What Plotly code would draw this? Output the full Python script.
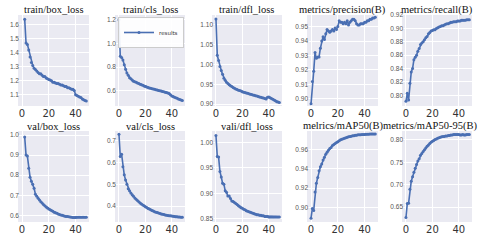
import plotly.graph_objects as go
from plotly.subplots import make_subplots

epochs = list(range(0, 49))

train_box_loss = [1.64, 1.47, 1.46, 1.42, 1.37, 1.33, 1.31, 1.29, 1.28, 1.27, 1.26, 1.25, 1.25, 1.24, 1.23,
                  1.23, 1.22, 1.215, 1.21, 1.205, 1.20, 1.19, 1.19, 1.185, 1.18, 1.18, 1.175, 1.17, 1.17,
                  1.165, 1.16, 1.16, 1.15, 1.15, 1.145, 1.14, 1.14, 1.13, 1.10, 1.095, 1.09, 1.085, 1.08,
                  1.07, 1.065, 1.06, 1.055]
train_cls_loss = [1.20, 0.89, 0.88, 0.86, 0.82, 0.78, 0.75, 0.73, 0.71, 0.70, 0.69, 0.68, 0.675, 0.67, 0.665,
                  0.66, 0.655, 0.65, 0.645, 0.64, 0.635, 0.63, 0.627, 0.623, 0.62, 0.617, 0.614, 0.611,
                  0.608, 0.605, 0.602, 0.599, 0.596, 0.593, 0.59, 0.587, 0.584, 0.58, 0.575, 0.565, 0.555,
                  0.55, 0.545, 0.54, 0.535, 0.53, 0.525, 0.52, 0.517]
train_dfl_loss = [1.115, 1.023, 1.01, 0.995, 0.985, 0.975, 0.965, 0.96, 0.955, 0.952, 0.949, 0.946, 0.944,
                  0.942, 0.94, 0.938, 0.937, 0.935, 0.934, 0.933, 0.931, 0.93, 0.929, 0.928, 0.927, 0.926,
                  0.925, 0.924, 0.923, 0.922, 0.921, 0.92, 0.919, 0.918, 0.917, 0.916, 0.915, 0.914, 0.913,
                  0.917, 0.918, 0.916, 0.914, 0.912, 0.91, 0.908, 0.906, 0.905, 0.904]
precision = [0.8965, 0.912, 0.919, 0.932, 0.928, 0.929, 0.929, 0.935, 0.94, 0.943, 0.941, 0.945, 0.948,
             0.947, 0.946, 0.947, 0.948, 0.947, 0.949, 0.948, 0.950, 0.954, 0.953, 0.953, 0.952, 0.953,
             0.952, 0.954, 0.951, 0.953, 0.954, 0.955, 0.955, 0.954, 0.952, 0.951, 0.951, 0.952, 0.952,
             0.952, 0.953, 0.953, 0.954, 0.954, 0.955, 0.955, 0.956, 0.956, 0.9565]
recall = [0.791, 0.803, 0.793, 0.818, 0.835, 0.84, 0.853, 0.857, 0.86, 0.866, 0.87, 0.876, 0.878, 0.88,
          0.883, 0.886, 0.888, 0.892, 0.894, 0.896, 0.897, 0.898, 0.898, 0.900, 0.901, 0.902, 0.903,
          0.904, 0.904, 0.905, 0.906, 0.907, 0.907, 0.908, 0.909, 0.909, 0.910, 0.910, 0.910, 0.911,
          0.911, 0.911, 0.912, 0.912, 0.912, 0.912, 0.913, 0.913, 0.913]
val_box_loss = [0.99, 0.90, 0.895, 0.835, 0.79, 0.77, 0.755, 0.735, 0.705, 0.695, 0.685, 0.676, 0.668,
                0.661, 0.654, 0.648, 0.642, 0.637, 0.632, 0.628, 0.624, 0.62, 0.616, 0.613, 0.61, 0.607,
                0.604, 0.602, 0.60, 0.598, 0.596, 0.595, 0.594, 0.593, 0.592, 0.591, 0.59, 0.59, 0.59,
                0.591, 0.591, 0.591, 0.591, 0.591, 0.591, 0.591, 0.591]
val_cls_loss = [0.728, 0.627, 0.637, 0.58, 0.543, 0.52, 0.50, 0.48, 0.47, 0.46, 0.452, 0.445, 0.438, 0.432,
                0.426, 0.42, 0.415, 0.41, 0.406, 0.402, 0.398, 0.394, 0.39, 0.387, 0.384, 0.381, 0.378,
                0.375, 0.373, 0.371, 0.369, 0.367, 0.365, 0.363, 0.362, 0.36, 0.359, 0.358, 0.357, 0.356,
                0.355, 0.354, 0.353, 0.352, 0.352, 0.351, 0.351, 0.35, 0.35]
val_dfl_loss = [1.013, 0.972, 0.971, 0.943, 0.932, 0.92, 0.918, 0.905, 0.902, 0.895, 0.895, 0.89, 0.885,
                0.884, 0.882, 0.88, 0.878, 0.876, 0.874, 0.872, 0.871, 0.869, 0.868, 0.866, 0.865, 0.864,
                0.863, 0.862, 0.861, 0.86, 0.859, 0.858, 0.858, 0.857, 0.857, 0.856, 0.856, 0.855, 0.855,
                0.855, 0.854, 0.854, 0.854, 0.854, 0.854, 0.854, 0.854, 0.854, 0.854]
map50 = [0.889, 0.899, 0.897, 0.916, 0.925, 0.931, 0.938, 0.942, 0.945, 0.949, 0.952, 0.955, 0.957, 0.959,
         0.961, 0.962, 0.964, 0.965, 0.966, 0.967, 0.968, 0.969, 0.97, 0.9705, 0.971, 0.9715, 0.972,
         0.9725, 0.973, 0.9733, 0.9736, 0.974, 0.9742, 0.9745, 0.9747, 0.975, 0.975, 0.9752, 0.9753,
         0.9755, 0.9755, 0.9756, 0.9757, 0.9757, 0.9758, 0.9758, 0.9759, 0.9759, 0.976]
map50_95 = [0.627, 0.658, 0.659, 0.69, 0.708, 0.718, 0.728, 0.737, 0.745, 0.753, 0.758, 0.766, 0.77, 0.774,
            0.778, 0.782, 0.786, 0.789, 0.792, 0.795, 0.797, 0.799, 0.801, 0.802, 0.804, 0.805, 0.806,
            0.807, 0.808, 0.808, 0.809, 0.809, 0.81, 0.81, 0.811, 0.811, 0.812, 0.812, 0.812, 0.812,
            0.812, 0.811, 0.811, 0.812, 0.811, 0.811, 0.812, 0.812, 0.812]

titles = ["train/box_loss", "train/cls_loss", "train/dfl_loss", "metrics/precision(B)", "metrics/recall(B)",
          "val/box_loss", "val/cls_loss", "vali/dfl_loss", "melrics/mAP50(B)", "metrics/mAP50-95(B)"]
series = [train_box_loss, train_cls_loss, train_dfl_loss, precision, recall,
          val_box_loss, val_cls_loss, val_dfl_loss, map50, map50_95]
y_ranges = [[1.02, 1.67], [0.47, 1.24], [0.895, 1.125], [0.895, 0.958], [0.784, 0.92],
            [0.567, 1.02], [0.328, 0.743], [0.844, 1.022], [0.885, 0.979], [0.617, 0.82]]
y_dticks = [0.1, 0.2, 0.05, 0.01, 0.02, 0.1, 0.1, 0.05, 0.02, 0.05]
y_formats = [".1f", ".1f", ".2f", ".2f", ".2f", ".1f", ".1f", ".2f", ".2f", ".2f"]

# target pixel boxes in the 480x240 window
col_px = [(18, 89), (115, 185), (212, 282), (307, 378), (402, 472)]
row_px = [(15, 106), (131, 222)]
W, H = 480, 240
LINE = "#4a6fb3"


def px_x(p):
    return p / W


def px_y(p):
    return 1 - p / H


fig = make_subplots(rows=2, cols=5)

for i, (ys, title) in enumerate(zip(series, titles)):
    r, c = divmod(i, 5)
    xs = epochs[2:2 + len(ys)] if len(ys) < len(epochs) else epochs
    fig.add_trace(go.Scatter(
        x=xs, y=ys, mode="lines+markers", name="results",
        line=dict(color=LINE, width=1.6),
        marker=dict(color=LINE, size=3),
        showlegend=(i == 1),
    ), row=r + 1, col=c + 1)
    n = i + 1
    xa = "xaxis" if n == 1 else f"xaxis{n}"
    ya = "yaxis" if n == 1 else f"yaxis{n}"
    x0, x1 = col_px[c]
    y0, y1 = row_px[r]
    fig.layout[xa].update(domain=[px_x(x0), px_x(x1)], range=[-3, 50], dtick=20, tick0=0,
                          showgrid=True, gridcolor="white", gridwidth=1, zeroline=False,
                          showline=False, ticks="", automargin=False,
                          tickfont=dict(family="DejaVu Sans", size=10, color="#333333"))
    fig.layout[ya].update(domain=[px_y(y1), px_y(y0)], range=y_ranges[i], dtick=y_dticks[i],
                          tickformat=y_formats[i], showgrid=True, gridcolor="white", gridwidth=1,
                          zeroline=False, showline=False, ticks="", automargin=False,
                          ticklabelstandoff=-2,
                          tickfont=dict(family="Liberation Sans", size=6.5, color="#555555"))
    if i == 9:
        tx, anchor = px_x(479), "right"
    else:
        tx, anchor = px_x((x0 + x1) / 2), "center"
    fig.add_annotation(text=title, x=tx, y=px_y(y0 - 5), xref="paper", yref="paper",
                       showarrow=False, xanchor=anchor, yanchor="middle",
                       font=dict(family="Liberation Serif", size=10.5, color="#111111"))

fig.update_layout(
    width=W, height=H, margin=dict(l=0, r=0, t=0, b=0, autoexpand=False),
    paper_bgcolor="white", plot_bgcolor="#EAEAF2",
    legend=dict(x=px_x(184), y=px_y(17), xanchor="right", yanchor="top",
                bgcolor="rgba(255,255,255,0.9)", bordercolor="#cccccc", borderwidth=1,
                font=dict(family="DejaVu Sans", size=5.5, color="#333333"),
                itemwidth=30, tracegroupgap=0),
)

fig.write_html("out.html", config={"displayModeBar": False},
               post_script="document.documentElement.style.margin='0px';"
                           "document.body.style.margin='0px';document.body.style.padding='0px';"
                           "document.body.style.overflow='hidden';")
